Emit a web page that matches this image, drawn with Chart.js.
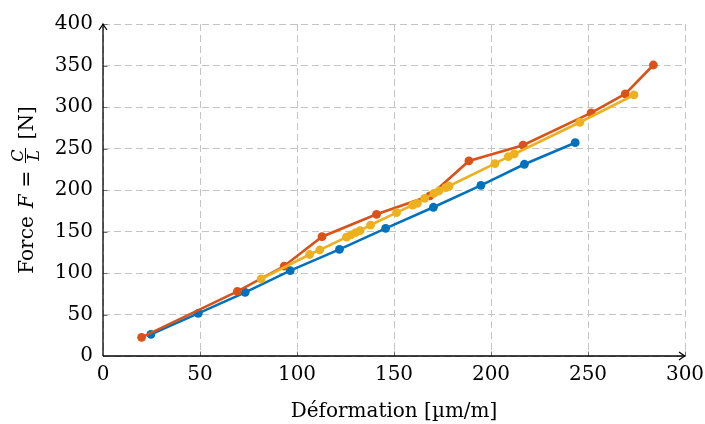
<!DOCTYPE html>
<html>
<head>
<meta charset="utf-8">
<script src="https://cdn.jsdelivr.net/npm/chart.js@4"></script>
<style>
  html, body { margin: 0; padding: 0; background: #fff; }
  #wrap { width: 705px; height: 424px; }
</style>
</head>
<body>
<div id="wrap"><canvas id="chart" width="705" height="424"></canvas></div>
<script>
// valeurs (déformation en µm/m, force en N)
const blueX = [24.7, 49.1, 73.3, 96.5, 121.9, 145.7, 170.3, 194.8, 217.2, 243.4];
const blueY = [26.0, 51.4, 76.7, 102.8, 128.5, 153.8, 179.2, 205.6, 231.0, 257.0];

const redX = [19.9, 69.3, 93.4, 112.9, 141.0, 168.5, 188.6, 216.5, 251.6, 269.2, 283.7];
const redY = [22.5, 77.9, 108.4, 143.7, 170.7, 193.0, 235.0, 254.0, 293.0, 315.7, 350.6];

const yellowX = [81.5, 106.5, 111.7, 125.5, 127.8, 130.2, 132.5, 137.9, 151.3, 159.6, 162.0,
                 165.8, 170.6, 173.2, 176.7, 178.4, 202.0, 208.9, 212.0, 245.8, 273.7];
const yellowY = [92.8, 122.3, 127.7, 143.2, 146.0, 148.5, 151.0, 157.8, 172.7, 181.9, 184.0,
                 190.0, 196.0, 198.8, 202.8, 204.8, 231.7, 240.1, 243.4, 281.6, 314.5];

const xTitle = 'Déformation [µm/m]';
const yTitleParts = { before: 'Force', sym: 'F', eq: '=', num: 'C', den: 'L', after: '[N]' };

const FONT = 'DejaVu Serif';
const FONT_SIZE = 20;

const toPoints = (xs, ys) => xs.map((v, i) => ({ x: v, y: ys[i] }));

const makeSet = (xs, ys, color, order) => ({
    data: toPoints(xs, ys),
    borderColor: color,
    backgroundColor: color,
    borderWidth: 2.6,
    pointRadius: 4.4,
    pointBorderWidth: 0,
    showLine: true,
    tension: 0,
    order: order
});

// axes avec flèches, petites graduations et titres (le titre y contient une fraction)
const axisDecor = {
    id: 'axisDecor',
    afterDraw(chart) {
        const { ctx, chartArea: a, scales: { x, y } } = chart;
        const line = (x1, y1, x2, y2) => { ctx.beginPath(); ctx.moveTo(x1, y1); ctx.lineTo(x2, y2); ctx.stroke(); };
        ctx.save();

        // graduations
        ctx.strokeStyle = '#707070';
        ctx.lineWidth = 1;
        x.ticks.forEach(t => {
            if (t.value === x.min) return;
            const px = Math.round(x.getPixelForValue(t.value)) + 0.5;
            line(px, a.bottom, px, a.bottom - 4.5);
        });
        y.ticks.forEach(t => {
            if (t.value === y.min) return;
            const py = Math.round(y.getPixelForValue(t.value)) + 0.5;
            line(a.left, py, a.left + 4.5, py);
        });

        // axes
        ctx.strokeStyle = '#000';
        ctx.lineWidth = 1.3;
        line(a.left, a.bottom, a.right, a.bottom);
        line(a.left, a.bottom, a.left, a.top);

        // pointes de flèche
        ctx.lineWidth = 1.2;
        ctx.beginPath();
        ctx.moveTo(a.right - 6, a.bottom - 4);
        ctx.quadraticCurveTo(a.right - 2, a.bottom - 1, a.right, a.bottom);
        ctx.quadraticCurveTo(a.right - 2, a.bottom + 1, a.right - 6, a.bottom + 4);
        ctx.stroke();
        ctx.beginPath();
        ctx.moveTo(a.left - 4, a.top + 6);
        ctx.quadraticCurveTo(a.left - 1, a.top + 2, a.left, a.top);
        ctx.quadraticCurveTo(a.left + 1, a.top + 2, a.left + 4, a.top + 6);
        ctx.stroke();

        // titre x
        ctx.fillStyle = '#000';
        ctx.font = `${FONT_SIZE}px "${FONT}"`;
        ctx.textAlign = 'center';
        ctx.textBaseline = 'alphabetic';
        ctx.fillText(xTitle, (a.left + a.right) / 2, 417);

        // titre y, tourné
        const main = `${FONT_SIZE}px "${FONT}"`;
        const ital = `italic ${FONT_SIZE}px "${FONT}"`;
        const small = `italic 16px "${FONT}"`;
        const p = yTitleParts;
        const gapWord = 8, gapEq = 7, gapFrac = 8;
        ctx.font = main;
        const wBefore = ctx.measureText(p.before).width;
        const wEq = ctx.measureText(p.eq).width;
        const wAfter = ctx.measureText(p.after).width;
        ctx.font = ital;
        const wSym = ctx.measureText(p.sym).width;
        ctx.font = small;
        const wFrac = Math.max(ctx.measureText(p.num).width, ctx.measureText(p.den).width) + 4;
        const total = wBefore + gapWord + wSym + gapEq + wEq + gapEq + wFrac + gapFrac + wAfter;

        ctx.translate(27, (a.top + a.bottom) / 2);
        ctx.rotate(-Math.PI / 2);
        ctx.textAlign = 'left';
        let u = -total / 2;
        const base = 6;
        ctx.font = main; ctx.fillText(p.before, u, base); u += wBefore + gapWord;
        ctx.font = ital; ctx.fillText(p.sym, u, base); u += wSym + gapEq;
        ctx.font = main; ctx.fillText(p.eq, u, base); u += wEq + gapEq;
        ctx.font = small;
        ctx.textAlign = 'center';
        ctx.fillText(p.num, u + wFrac / 2, base - 10.5);
        ctx.fillText(p.den, u + wFrac / 2, base + 6);
        ctx.lineWidth = 1;
        line(u + 0.5, base - 7.5, u + wFrac - 0.5, base - 7.5);
        u += wFrac + gapFrac;
        ctx.textAlign = 'left';
        ctx.font = main; ctx.fillText(p.after, u, base);

        ctx.restore();
    }
};

const gridOpts = {
    color: '#c4c4c4',
    lineWidth: 1,
    drawTicks: false
};

new Chart(document.getElementById('chart').getContext('2d'), {
    type: 'scatter',
    data: {
        datasets: [
            makeSet(blueX, blueY, '#0072BD', 3),
            makeSet(redX, redY, '#D95319', 2),
            makeSet(yellowX, yellowY, '#EDB120', 1)
        ]
    },
    options: {
        responsive: false,
        animation: false,
        events: [],
        layout: { padding: { left: 0, right: 20, top: 24, bottom: 0 } },
        plugins: { legend: { display: false }, tooltip: { enabled: false } },
        scales: {
            x: {
                type: 'linear', min: 0, max: 300,
                grid: gridOpts,
                border: { display: false, dash: [7, 4] },
                ticks: { stepSize: 50, padding: 7, color: '#000', font: { family: FONT, size: FONT_SIZE } },
                afterFit: s => { s.height = 68; s.paddingLeft = 0; s.paddingRight = 0; }
            },
            y: {
                type: 'linear', min: 0, max: 400,
                grid: gridOpts,
                border: { display: false, dash: [7, 4] },
                ticks: { stepSize: 50, padding: 10, color: '#000', font: { family: FONT, size: FONT_SIZE } },
                afterFit: s => { s.width = 103; s.paddingTop = 0; s.paddingBottom = 0; }
            }
        }
    },
    plugins: [axisDecor]
});
</script>
</body>
</html>
